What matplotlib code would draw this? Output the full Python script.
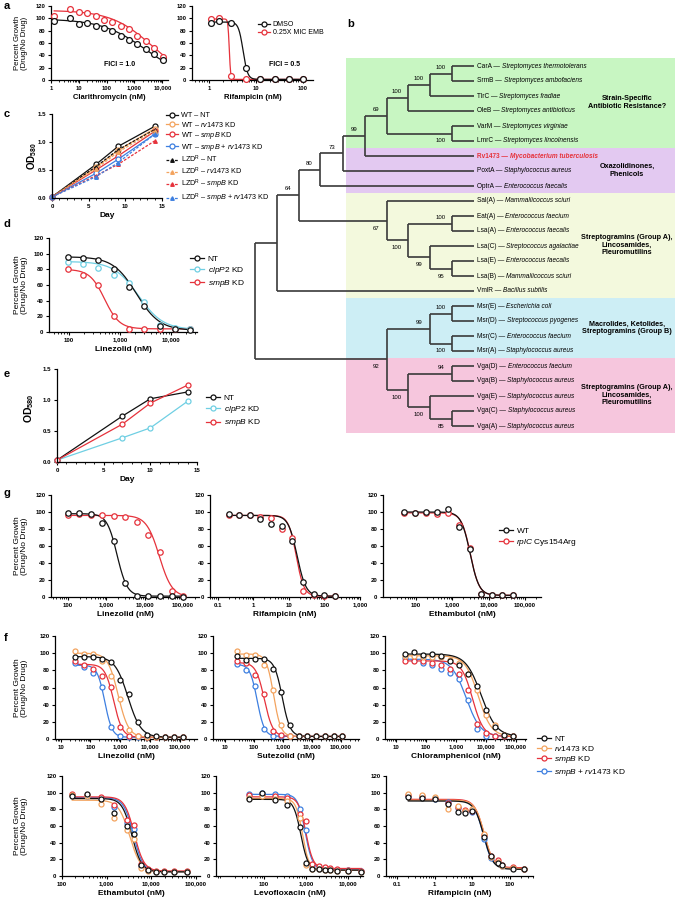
import numpy as np
import matplotlib
matplotlib.use("Agg")
import matplotlib.pyplot as plt
from matplotlib.lines import Line2D
from matplotlib.patches import Rectangle
from matplotlib.ticker import LogLocator, NullFormatter, MultipleLocator

plt.rcParams["font.family"] = ["Liberation Sans", "DejaVu Sans"]
plt.rcParams["mathtext.fontset"] = "custom"
plt.rcParams["mathtext.rm"] = "Liberation Sans"
plt.rcParams["mathtext.it"] = "Liberation Sans:italic"
plt.rcParams["mathtext.bf"] = "Liberation Sans:bold"

W, H = 676, 902
BLACK, ORANGE, RED, BLUE, CYAN = "#111111", "#f3a35e", "#e6323b", "#3d7fe0", "#6fcfe3"

# ---------------- data ----------------
# panel a
clari_conc = [1.3, 5, 10, 20, 40, 80, 160, 320, 640, 1280, 2560, 5120, 10240]
clari_dmso = [96, 101, 91, 93, 88, 84, 79, 72, 65, 58, 51, 42, 32]
clari_emb = [104, 115, 110, 109, 104, 98, 94, 88, 82, 72, 63, 52, 38]
clari_fit_dmso = (99, 0, 2500, 0.55)
clari_fit_emb = (113, 0, 4000, 0.6)
rifa_conc = [1.1, 1.6, 3.0, 6.0, 12, 25, 50, 100]
rifa_dmso = [92, 96, 93, 20, 1, 1, 1, 1]
rifa_emb = [99, 100, 6, 2, 1, 1, 1, 1]
rifa_fit_dmso = (94, 1, 5.3, 9)
rifa_fit_emb = (99, 1, 2.7, 30)

# panel c (growth, OD580)
c_days = [0, 6, 9, 14]
c_wt_nt = [0.02, 0.60, 0.92, 1.28]
c_wt_rv = [0.02, 0.55, 0.85, 1.24]
c_wt_smpb = [0.02, 0.50, 0.75, 1.19]
c_wt_combo = [0.02, 0.44, 0.69, 1.14]
c_lzd_nt = [0.02, 0.56, 0.86, 1.22]
c_lzd_rv = [0.02, 0.52, 0.82, 1.20]
c_lzd_smpb = [0.02, 0.40, 0.60, 1.02]
c_lzd_combo = [0.02, 0.38, 0.63, 1.14]

# panel d
d_conc = [94, 188, 375, 750, 1500, 3000, 6000, 12000, 24000]
d_nt = [96, 94, 92, 80, 58, 33, 8, 4, 3]
d_clp = [90, 87, 82, 73, 62, 38, 9, 5, 4]
d_smpb = [80, 73, 60, 21, 4, 4, 4, 4, 4]
d_fit_nt = (96, 2, 2100, 1.9)
d_fit_clp = (90, 3, 2300, 1.8)
d_fit_smpb = (80, 4, 500, 3)

# panel e
e_days = [0, 7, 10, 14]
e_nt = [0.03, 0.74, 1.02, 1.13]
e_clp = [0.03, 0.39, 0.55, 0.98]
e_smpb = [0.03, 0.61, 0.95, 1.24]

# panel g
g_lzd_conc = [98, 195, 390, 781, 1562, 3125, 6250, 12500, 25000, 50000, 100000]
g_lzd_wt = [99, 99, 98, 87, 66, 17, 1, 1, 1, 1, 0]
g_lzd_mut = [97, 98, 97, 96, 95, 94, 88, 73, 53, 7, 1]
g_lzd_fit_wt = (98, 1, 1900, 3.3)
g_lzd_fit_mut = (96, 0, 24000, 2.6)
g_rif_conc = [0.2, 0.39, 0.78, 1.56, 3.1, 6.25, 12.5, 25, 50, 100, 200]
g_rif_wt = [98, 97, 96, 92, 86, 84, 66, 18, 3, 2, 1]
g_rif_mut = [97, 96, 96, 94, 93, 80, 70, 7, 2, 1, 1]
g_rif_fit_wt = (96, 1, 17, 3.5)
g_rif_fit_mut = (96, 1, 16, 4)
g_emb_conc = [47, 94, 188, 375, 750, 1500, 3000, 6000, 12000, 24000, 48000]
g_emb_wt = [100, 99, 100, 100, 103, 82, 57, 4, 2, 2, 2]
g_emb_mut = [99, 99, 99, 98, 99, 85, 58, 3, 2, 2, 2]
g_emb_fit_wt = (100, 2, 3100, 3.5)
g_emb_fit_mut = (99, 2, 3150, 3.6)

# panel f (order: NT, rv1473 KD, smpB KD, smpB + rv1473 KD)
f_lzd_conc = [31, 62, 125, 250, 500, 1000, 2000, 4000, 8000, 16000, 32000, 64000, 128000]
f_lzd = [[96, 96, 96, 93, 90, 69, 53, 20, 5, 3, 2, 2, 2],
         [103, 99, 99, 91, 73, 47, 10, 3, 2, 2, 2, 2, 2],
         [91, 86, 82, 73, 61, 14, 4, 3, 2, 2, 2, 2, 2],
         [89, 84, 77, 61, 14, 4, 2, 2, 2, 2, 2, 2, 2]]
f_lzd_fit = [(96, 2, 1800, 2), (100, 2, 850, 2.5), (87, 2, 600, 3), (86, 2, 300, 3.5)]

f_stz_conc = [27, 55, 110, 220, 440, 880, 1760, 3500, 7000, 14000, 28000, 56000, 112000]
f_stz = [[97, 92, 93, 93, 81, 55, 16, 4, 3, 3, 3, 3, 3],
         [103, 98, 98, 86, 57, 16, 4, 3, 3, 3, 3, 3, 3],
         [91, 88, 74, 52, 9, 5, 4, 3, 3, 3, 3, 3, 3],
         [87, 80, 62, 12, 4, 4, 3, 3, 3, 3, 3, 3, 3]]
f_stz_fit = [(94, 3, 950, 3.2), (99, 3, 480, 3.5), (89, 3, 230, 3), (87, 3, 130, 3.5)]

f_cam_conc = [20, 40, 80, 160, 320, 640, 1280, 2560, 5120, 10240, 20480, 40960, 81920]
f_cam = [[99, 101, 98, 99, 97, 91, 86, 76, 62, 34, 14, 5, 3],
         [97, 97, 96, 96, 95, 92, 88, 76, 57, 28, 16, 5, 3],
         [91, 91, 91, 89, 86, 82, 76, 57, 17, 7, 3, 3, 3],
         [94, 92, 88, 86, 81, 77, 70, 45, 12, 4, 3, 3, 3]]
f_cam_fit = [(99, 3, 7000, 1.7), (97, 3, 5600, 2), (91, 3, 3600, 2.4), (93, 3, 2200, 1.8)]

f_emb_conc = [170, 370, 740, 1440, 2950, 4150, 6000, 8600, 12600, 19000, 32000, 65000]
f_emb = [[96, 98, 92, 76, 60, 51, 13, 7, 5, 5, 5, 5],
         [97, 96, 86, 70, 55, 45, 10, 6, 5, 5, 5, 5],
         [98, 97, 95, 85, 67, 61, 14, 8, 6, 6, 6, 6],
         [97, 96, 94, 83, 64, 57, 12, 7, 5, 5, 5, 5]]
f_emb_fit = [(93, 5, 3700, 4), (91, 5, 3300, 3.5), (95, 6, 4200, 4), (94, 5, 4000, 4)]

f_lev_conc = [44, 90, 183, 355, 720, 1000, 1390, 2030, 2800, 3850, 5600, 10300, 21000]
f_lev = [[92, 100, 91, 85, 59, 16, 9, 8, 7, 7, 6, 6, 5],
         [94, 96, 93, 90, 70, 13, 9, 8, 7, 7, 6, 6, 5],
         [97, 97, 96, 94, 75, 66, 14, 12, 11, 10, 9, 7, 6],
         [99, 100, 99, 96, 80, 55, 12, 9, 8, 8, 7, 7, 6]]
f_lev_fit = [(92, 7, 760, 5), (93, 7, 830, 5.5), (95, 9, 1000, 5), (98, 8, 960, 5)]

f_rif_conc = [0.2, 0.45, 1.0, 2.2, 4.2, 6.3, 10, 21, 31, 47, 62, 120, 240]
f_rif = [[95, 94, 93, 86, 77, 76, 78, 47, 24, 16, 13, 9, 8],
         [98, 97, 95, 80, 84, 78, 80, 50, 23, 17, 12, 10, 8],
         [97, 96, 94, 88, 83, 79, 78, 49, 24, 19, 13, 11, 9],
         [96, 95, 93, 89, 82, 78, 77, 44, 22, 17, 12, 10, 9]]
f_rif_fit = [(90, 8, 20, 3.5), (91, 9, 21, 3.5), (92, 10, 20.5, 3.5), (91, 9, 19.5, 3.6)]

f_labels = ["NT", r"$\mathit{rv1473}$ KD", r"$\mathit{smpB}$ KD",
            r"$\mathit{smpB}$ + $\mathit{rv1473}$ KD"]
f_colors = [BLACK, ORANGE, RED, BLUE]

# panel b (tree)
leaves = [("CarA", "Streptomyces thermotolerans"), ("SrmB", "Streptomyces ambofaciens"),
          ("TlrC", "Streptomyces fradiae"), ("OleB", "Streptomyces antibioticus"),
          ("VarM", "Streptomyces virginiae"), ("LmrC", "Streptomyces lincolnensis"),
          ("Rv1473", "Mycobacterium tuberculosis"), ("PoxtA", "Staphylococcus aureus"),
          ("OptrA", "Enterococcus faecalis"), ("Sal(A)", "Mammaliicoccus sciuri"),
          ("Eat(A)", "Enterococcus faecium"), ("Lsa(A)", "Enterococcus faecalis"),
          ("Lsa(C)", "Streptococcus agalactiae"), ("Lsa(E)", "Enterococcus faecalis"),
          ("Lsa(B)", "Mammaliicoccus sciuri"), ("VmlR", "Bacillus subtilis"),
          ("Msr(E)", "Escherichia coli"), ("Msr(D)", "Streptococcus pyogenes"),
          ("Msr(C)", "Enterococcus faecium"), ("Msr(A)", "Staphylococcus aureus"),
          ("Vga(D)", "Enterococcus faecium"), ("Vga(B)", "Staphylococcus aureus"),
          ("Vga(E)", "Staphylococcus aureus"), ("Vga(C)", "Staphylococcus aureus"),
          ("Vga(A)", "Staphylococcus aureus")]
# (depth, bootstrap, label side, children)
tree = (255, None, None, [
    (277, None, None, [
        (299, 64, "above", [
            (320, 80, "above", [
                (343, 73, "above", [
                    (365, 99, "above", [
                        (387, 69, "above", [
                            (408, 100, "above", [
                                (430, 100, "above", [
                                    (452, 100, "above", ["CarA", "SrmB"]),
                                    "TlrC"]),
                                "OleB"]),
                            (452, 100, "below", ["VarM", "LmrC"])]),
                        "Rv1473"]),
                    "PoxtA"]),
                "OptrA"]),
            (387, 67, "below", [
                "Sal(A)",
                (408, 100, "below", [
                    (452, 100, "above", ["Eat(A)", "Lsa(A)"]),
                    (430, 99, "below", [
                        "Lsa(C)",
                        (452, 95, "below", ["Lsa(E)", "Lsa(B)"])])])])]),
        "VmlR"]),
    (387, 92, "below", [
        (430, 99, "above", [
            (452, 100, "above", ["Msr(E)", "Msr(D)"]),
            (452, 100, "below", ["Msr(C)", "Msr(A)"])]),
        (408, 100, "below", [
            (452, 94, "above", ["Vga(D)", "Vga(B)"]),
            (430, 100, "below", [
                "Vga(E)",
                (452, 85, "below", ["Vga(C)", "Vga(A)"])])])])])
TIP = 474
groups = [("CarA", "LmrC", "#c8f6c2", "Strain-Specific\nAntibiotic Resistance?"),
          ("Rv1473", "OptrA", "#e3c9f1", "Oxazolidinones,\nPhenicols"),
          ("Sal(A)", "VmlR", "#f3f9dd", "Streptogramins (Group A),\nLincosamides,\nPleuromutilins"),
          ("Msr(E)", "Msr(A)", "#cdeef5", "Macrolides, Ketolides,\nStreptogramins (Group B)"),
          ("Vga(D)", "Vga(A)", "#f6c6dd", "Streptogramins (Group A),\nLincosamides,\nPleuromutilins")]

# ---------------- helpers ----------------
fig = plt.figure(figsize=(W / 100, H / 100), dpi=100)


def px_axes(x0, x1, top, bottom):
    return fig.add_axes([x0 / W, 1 - bottom / H, (x1 - x0) / W, (bottom - top) / H])


def ftext(x, y, s, **kw):
    return fig.text(x / W, 1 - y / H, s, **kw)


def hill(x, top, bottom, ic50, n):
    return bottom + (top - bottom) / (1 + (x / ic50) ** n)


def conc_label(v):
    return f"{v:,.0f}" if v >= 1 else f"{v:g}"


def base_style(ax, tick_fs):
    for s in ("top", "right"):
        ax.spines[s].set_visible(False)
    for s in ("left", "bottom"):
        ax.spines[s].set_linewidth(0.9)
    ax.tick_params(which="major", length=2.5, width=0.8, labelsize=tick_fs, pad=1.5)
    ax.tick_params(which="minor", length=1.5, width=0.6)


def dose_panel(ax, conc, series, fits, colors, xlim, xticks, xlabel,
               tick_fs=4.4, lab_fs=6, ms=3.9):
    xs = np.geomspace(min(conc), max(conc), 300)
    for vals, fit, col in reversed(list(zip(series, fits, colors))):
        ax.plot(xs, hill(xs, *fit), color=col, lw=0.9, zorder=2)
        ax.plot(conc, vals, "o", mfc="white", mec=col, ms=ms, mew=0.9, zorder=3, clip_on=False)
    ax.set_xscale("log")
    ax.set_xlim(*xlim)
    ax.set_ylim(0, 120)
    base_style(ax, tick_fs)
    ax.set_yticks(range(0, 121, 20))
    ax.set_yticklabels([str(v) for v in range(0, 121, 20)], fontweight="bold")
    ax.set_xticks(xticks)
    ax.set_xticklabels([conc_label(v) for v in xticks], fontweight="bold")
    ax.xaxis.set_minor_locator(LogLocator(base=10, subs=np.arange(2, 10), numticks=30))
    ax.xaxis.set_minor_formatter(NullFormatter())
    ax.set_xlabel(xlabel, fontsize=lab_fs, fontweight="bold", labelpad=2.5)


def growth_panel(ax, days, series, styles, tick_fs=4.4):
    for vals, (col, ls, mk, mfc, ms) in zip(series, styles):
        ax.plot(days, vals, color=col, ls=ls, lw=0.9, marker=mk, mfc=mfc, mec=col,
                ms=ms, mew=0.9, clip_on=False)
    ax.set_xlim(0, 15)
    ax.set_ylim(0, 1.5)
    base_style(ax, tick_fs)
    ax.set_xticks([0, 5, 10, 15])
    ax.set_xticklabels(["0", "5", "10", "15"], fontweight="bold")
    ax.xaxis.set_minor_locator(MultipleLocator(1))
    ax.set_yticks([0, 0.5, 1.0, 1.5])
    ax.set_yticklabels(["0.0", "0.5", "1.0", "1.5"], fontweight="bold")
    ax.set_xlabel("Day", fontsize=6, fontweight="bold", labelpad=2.5)


def legend_at(handles, labels, x, top, fs, spacing):
    fig.legend(handles, labels, loc="upper left", bbox_to_anchor=(x / W, 1 - top / H),
               frameon=False, fontsize=fs, handlelength=1.7, handletextpad=0.4,
               labelspacing=spacing, borderpad=0, borderaxespad=0)


def circ(col):
    return Line2D([], [], color=col, lw=0.9, marker="o", mfc="white", mec=col, ms=3.6, mew=0.9)


YLAB = "Percent Growth\n(Drug/No Drug)"

# ---------------- panel a ----------------
ax = px_axes(51, 168, 6, 80)
dose_panel(ax, clari_conc, [clari_dmso, clari_emb], [clari_fit_dmso, clari_fit_emb],
           [BLACK, RED], (1, 16000), [1, 10, 100, 1000, 10000], "Clarithromycin (nM)",
           tick_fs=4.2, lab_fs=5.5, ms=4.2)
ax = px_axes(192, 313, 6, 80)
dose_panel(ax, rifa_conc, [rifa_dmso, rifa_emb], [rifa_fit_dmso, rifa_fit_emb],
           [BLACK, RED], (0.435, 163), [1, 10, 100], "Rifampicin (nM)",
           tick_fs=4.2, lab_fs=5.5, ms=4.2)
ftext(120, 65, "FICI = 1.0", fontsize=5, fontweight="bold", ha="center", va="center")
ftext(285, 65, "FICI = 0.5", fontsize=5, fontweight="bold", ha="center", va="center")
ftext(21, 43, YLAB, fontsize=5.6, rotation=90, ha="center", va="center", linespacing=1.1)
legend_at([circ(BLACK), circ(RED)], ["DMSO", "0.25X MIC EMB"], 258, 21, 5, 0.15)

# ---------------- panel c ----------------
ax = px_axes(52, 162, 114, 198)
c_series = [c_wt_nt, c_wt_rv, c_wt_smpb, c_wt_combo, c_lzd_nt, c_lzd_rv, c_lzd_smpb, c_lzd_combo]
c_cols = [BLACK, ORANGE, RED, BLUE] * 2
c_styles = [(col, "-", "o", "white", 3.6) for col in c_cols[:4]] + \
           [(col, (0, (2.2, 1.2)), "^", col, 2.6) for col in c_cols[4:]]
growth_panel(ax, c_days, c_series, c_styles)
ftext(32, 156, r"$\mathbf{OD_{580}}$", fontsize=7, rotation=90, ha="center", va="center")
c_labels = ["WT – NT", r"WT – $\mathit{rv1473}$ KD", r"WT – $\mathit{smpB}$ KD",
            r"WT – $\mathit{smpB}$ + $\mathit{rv1473}$ KD",
            r"LZD$^{\mathrm{R}}$ – NT", r"LZD$^{\mathrm{R}}$ – $\mathit{rv1473}$ KD",
            r"LZD$^{\mathrm{R}}$ – $\mathit{smpB}$ KD",
            r"LZD$^{\mathrm{R}}$ – $\mathit{smpB}$ + $\mathit{rv1473}$ KD"]
c_handles = [Line2D([], [], color=col, ls=ls, lw=0.9, marker=mk, mfc=mfc, mec=col, ms=ms, mew=0.9)
             for col, ls, mk, mfc, ms in c_styles]
legend_at(c_handles, c_labels, 166, 112, 5.2, 0.12)

# ---------------- panel d ----------------
ax = px_axes(49, 197, 238, 332)
dose_panel(ax, d_conc, [d_nt, d_clp, d_smpb], [d_fit_nt, d_fit_clp, d_fit_smpb],
           [BLACK, CYAN, RED], (40.6, 32400), [100, 1000, 10000], "Linezolid (nM)")
ftext(21, 285, YLAB, fontsize=6, rotation=90, ha="center", va="center", linespacing=1.1)
legend_at([circ(BLACK), circ(CYAN), circ(RED)],
          ["NT", r"$\mathit{clpP2}$ KD", r"$\mathit{smpB}$ KD"], 190, 255, 6, 0.25)

# ---------------- panel e ----------------
ax = px_axes(57, 197, 369, 462)
growth_panel(ax, e_days, [e_nt, e_clp, e_smpb],
             [(col, "-", "o", "white", 3.6) for col in (BLACK, CYAN, RED)])
ftext(29, 408, r"$\mathbf{OD_{580}}$", fontsize=7.5, rotation=90, ha="center", va="center")
legend_at([circ(BLACK), circ(CYAN), circ(RED)],
          ["NT", r"$\mathit{clpP2}$ KD", r"$\mathit{smpB}$ KD"], 206, 394, 6, 0.28)

# ---------------- panel g ----------------
ax = px_axes(51, 199, 495, 597)
dose_panel(ax, g_lzd_conc, [g_lzd_wt, g_lzd_mut], [g_lzd_fit_wt, g_lzd_fit_mut],
           [BLACK, RED], (36, 2.6e5), [100, 1000, 10000, 100000], "Linezolid (nM)")
ax = px_axes(210, 360, 495, 597)
dose_panel(ax, g_rif_conc, [g_rif_wt, g_rif_mut], [g_rif_fit_wt, g_rif_fit_mut],
           [BLACK, RED], (0.06, 1000), [0.1, 1, 10, 100, 1000], "Rifampicin (nM)")
ax = px_axes(383, 541, 495, 597)
dose_panel(ax, g_emb_conc, [g_emb_wt, g_emb_mut], [g_emb_fit_wt, g_emb_fit_mut],
           [BLACK, RED], (12.5, 2.75e5), [100, 1000, 10000, 100000], "Ethambutol (nM)")
ftext(21, 546, YLAB, fontsize=6, rotation=90, ha="center", va="center", linespacing=1.1)
legend_at([circ(BLACK), circ(RED)], ["WT", r"$\mathit{rplC}$ Cys154Arg"], 499, 527, 6, 0.28)

# ---------------- panel f ----------------
f_panels = [
    ((55, 197, 636, 739), f_lzd_conc, f_lzd, f_lzd_fit, (6.5, 3.7e5), [10, 100, 1000, 10000, 100000], "Linezolid (nM)"),
    ((213, 359, 636, 739), f_stz_conc, f_stz, f_stz_fit, (3.9, 4.2e5), [10, 100, 1000, 10000, 100000], "Sutezolid (nM)"),
    ((385, 526, 636, 739), f_cam_conc, f_cam, f_cam_fit, (4.3, 2.2e5), [10, 100, 1000, 10000, 100000], "Chloramphenicol (nM)"),
    ((62, 200, 776, 876), f_emb_conc, f_emb, f_emb_fit, (100, 1.25e5), [100, 1000, 10000, 100000], "Ethambutol (nM)"),
    ((216, 363, 776, 876), f_lev_conc, f_lev, f_lev_fit, (7.2, 2.3e4), [100, 1000, 10000], "Levofloxacin (nM)"),
    ((386, 533, 776, 876), f_rif_conc, f_rif, f_rif_fit, (0.051, 410), [0.1, 1, 10, 100], "Rifampicin (nM)"),
]
for (x0, x1, t, b), conc, vals, fits, xlim, ticks, lab in f_panels:
    ax = px_axes(x0, x1, t, b)
    dose_panel(ax, conc, vals, fits, f_colors, xlim, ticks, lab, ms=3.6)
ftext(21, 688, YLAB, fontsize=6, rotation=90, ha="center", va="center", linespacing=1.1)
ftext(21, 826, YLAB, fontsize=6, rotation=90, ha="center", va="center", linespacing=1.1)
legend_at([circ(c) for c in f_colors], f_labels, 537, 735, 6, 0.15)

# ---------------- panel b (tree) ----------------
axt = px_axes(250, 676, 20, 440)
axt.set_xlim(250, 676)
axt.set_ylim((440 - 66) / 15, (20 - 66) / 15)
axt.axis("off")
leaf_idx = {name: i for i, (name, _) in enumerate(leaves)}

for first, last, col, text in groups:
    y0, y1 = leaf_idx[first] - 0.55, leaf_idx[last] + 0.45
    axt.add_patch(Rectangle((346, y0), 329, y1 - y0, facecolor=col, edgecolor="none", zorder=0))
    axt.text(627, (y0 + y1) / 2, text, fontsize=5.2, fontweight="bold", ha="center",
             va="center", linespacing=1.15, zorder=3)

LINE = dict(color="#3a3a3a", lw=1.2, solid_capstyle="butt", zorder=2)


def draw_clade(node, parent_x):
    if isinstance(node, str):
        y = leaf_idx[node]
        axt.plot([parent_x, TIP], [y, y], **LINE)
        return y
    depth, boot, side, children = node
    ys = [draw_clade(ch, depth) for ch in children]
    ymid = (ys[0] + ys[-1]) / 2
    axt.plot([depth, depth], [ys[0], ys[-1]], **LINE)
    if parent_x is not None:
        axt.plot([parent_x, depth], [ymid, ymid], **LINE)
    if boot is not None:
        dy = -0.42 if side == "above" else 0.5
        axt.text(depth - 11, ymid + dy, str(boot), fontsize=4.3, ha="center", va="center", zorder=3)
    return ymid


draw_clade(tree, None)

for name, species in leaves:
    y = leaf_idx[name]
    kw = dict(fontsize=4.7, va="center", zorder=3)
    if name == "Rv1473":
        kw.update(color=RED, fontweight="bold")
    t = axt.text(477, y, name + " — ", ha="left", **kw)
    axt.annotate(species, xy=(1, 0.5), xycoords=t, ha="left", style="italic", **kw)

# ---------------- panel letters ----------------
for letter, x, y in [("a", 4, 6), ("b", 347, 24), ("c", 4, 114), ("d", 4, 224),
                     ("e", 4, 374), ("g", 4, 493), ("f", 4, 638)]:
    ftext(x, y, letter, fontsize=8, fontweight="bold", ha="left", va="center")

fig.savefig("out.png", dpi=100)
